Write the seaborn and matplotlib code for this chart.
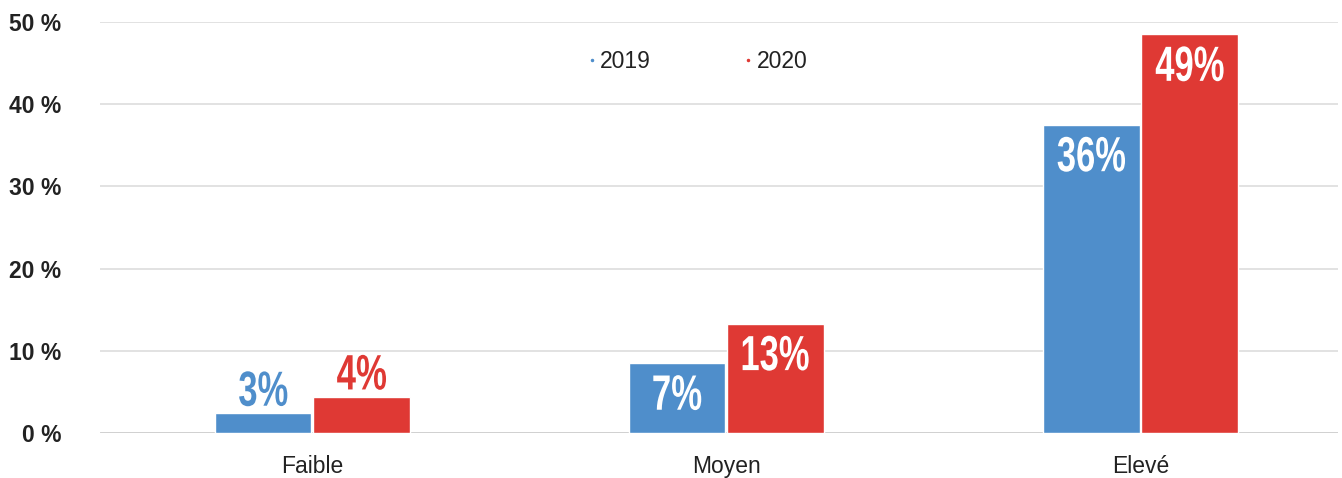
import pandas as pd
import matplotlib.pyplot as plt
from matplotlib.font_manager import FontProperties
from matplotlib.textpath import TextPath
from matplotlib.patches import PathPatch
from matplotlib.transforms import Affine2D
from matplotlib.lines import Line2D
import seaborn as sns

niveaux = ["Faible", "Moyen", "Elevé"]
annees = ["2019", "2020"]
parts_2019 = [2.4, 8.5, 37.5]
parts_2020 = [4.4, 13.3, 48.5]
labels_2019 = ["3%", "7%", "36%"]
labels_2020 = ["4%", "13%", "49%"]
couleurs = {"2019": "#4F8ECB", "2020": "#DF3934"}

df = pd.DataFrame({
    "niveau": niveaux * 2,
    "annee": ["2019"] * 3 + ["2020"] * 3,
    "part": parts_2019 + parts_2020,
    "label": labels_2019 + labels_2020,
})

sns.set_style("white")
plt.rcParams["font.family"] = ["Liberation Sans", "DejaVu Sans"]

fig = plt.figure(figsize=(13.42, 4.78), dpi=100)
ax = fig.add_axes([100 / 1342, 45 / 478, 1238 / 1342, 411 / 478])

sns.barplot(data=df, x="niveau", y="part", hue="annee", order=niveaux,
            hue_order=annees, palette=couleurs, width=0.475, gap=0.02,
            saturation=1, legend=False, ax=ax)

ax.set_ylim(0, 50)
ax.set_xlim(-0.513, 2.477)
ax.set_yticks([0, 10, 20, 30, 40, 50])
ax.set_yticklabels([f"{v} %" for v in [0, 10, 20, 30, 40, 50]],
                   fontsize=16.5, fontweight="bold", color="#222222")
ax.tick_params(axis="y", length=0, pad=28)
ax.tick_params(axis="x", length=0, pad=16, labelsize=16.5, labelcolor="#222222")
ax.set_xlabel("")
ax.set_ylabel("")
for s in ax.spines.values():
    s.set_visible(False)
for v in [10, 20, 30, 40, 50]:
    ax.axhline(v, color="#DDDDDD", lw=1.2, zorder=0)
ax.axhline(0, color="#CCCCCC", lw=2, zorder=0)

# libellés des barres : police grasse compressée horizontalement (style condensé)
fp_lab = FontProperties(family="Liberation Sans", weight="bold")
haut_px = 35      # hauteur des chiffres en pixels
compression = 0.70
fig.canvas.draw()
for cont, annee in zip(ax.containers, annees):
    sub = df[df["annee"] == annee].set_index("niveau").loc[niveaux]
    for rect, lab in zip(cont, sub["label"]):
        x = rect.get_x() + rect.get_width() / 2
        h = rect.get_height()
        px, py = ax.transData.transform((x, h))
        tp = TextPath((0, 0), lab, size=100, prop=fp_lab)
        bb = tp.get_extents()
        s = haut_px / bb.height
        if h < 6:
            tr = (Affine2D().translate(-(bb.x0 + bb.width / 2), -bb.y0)
                  .scale(s * compression, s).translate(px, py + 7))
            coul = couleurs[annee]
        else:
            tr = (Affine2D().translate(-(bb.x0 + bb.width / 2), -bb.y1)
                  .scale(s * compression, s).translate(px, py - 12))
            coul = "white"
        patch = PathPatch(tp, transform=tr, facecolor=coul, edgecolor="none",
                          clip_on=False, zorder=5)
        fig.add_artist(patch)

handles = [Line2D([], [], marker="o", ls="", markersize=1.5, color=couleurs[a]) for a in annees]
ax.legend(handles, annees, loc="center", bbox_to_anchor=(0.483, 0.905), ncol=2,
          frameon=False, fontsize=16.5, handlelength=0.3, handletextpad=0.2,
          columnspacing=4.1, labelcolor="#222222")

plt.savefig("out.png", dpi=100)
